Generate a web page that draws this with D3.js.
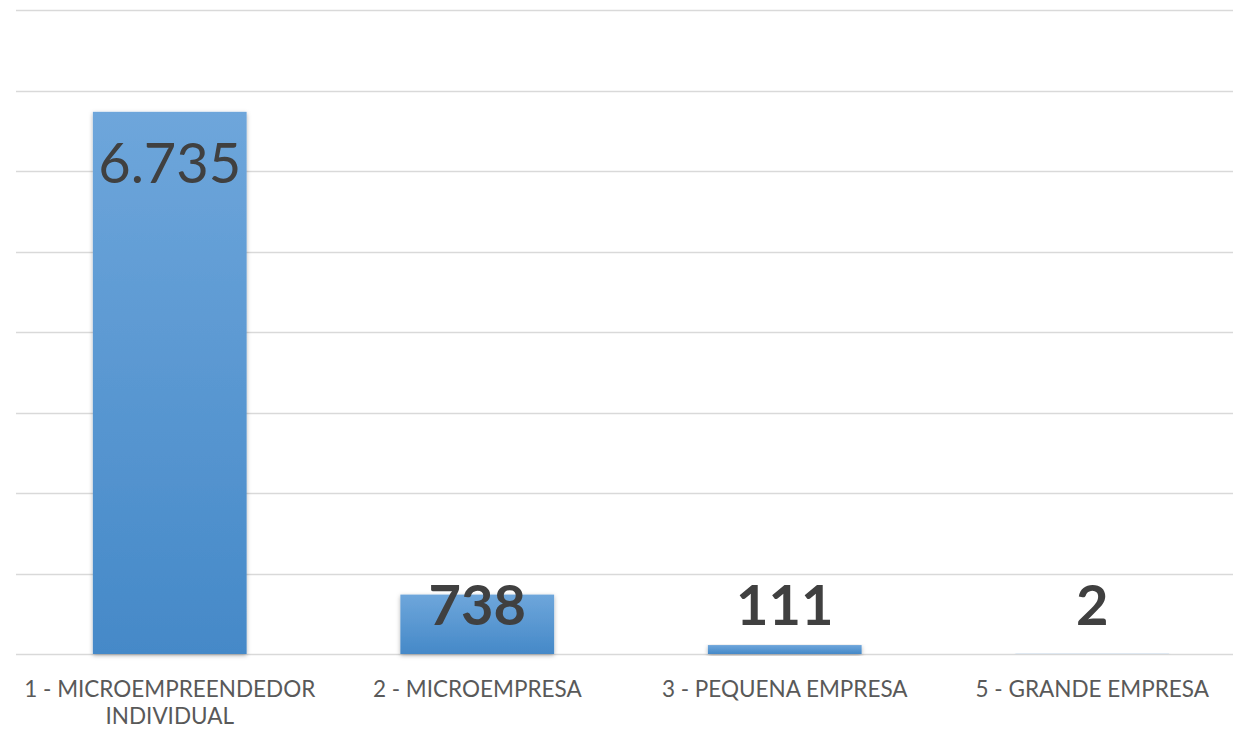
<!DOCTYPE html>
<html>
<head>
<meta charset="utf-8">
<script src="https://cdn.jsdelivr.net/npm/d3@7"></script>
<style>
	body { margin: 0; background: #fff; }
	svg { display: block; font-family: Lato, "Open Sans", sans-serif; }
</style>
</head>
<body>
<svg id="chart" width="1233" height="731"></svg>
<script>
// porte das empresas
var categories = ["1 - MICROEMPREENDEDOR INDIVIDUAL", "2 - MICROEMPRESA", "3 - PEQUENA EMPRESA", "5 - GRANDE EMPRESA"];
var values = [6735, 738, 111, 2];
var yTicks = [0, 1000, 2000, 3000, 4000, 5000, 6000, 7000, 8000];

var width = 1233, height = 731;
var plot = {left: 16, right: 1246, top: 10, bottom: 654};

var svg = d3.select("#chart");

var fmt = d3.formatLocale({decimal: ",", thousands: ".", grouping: [3], currency: ["R$", ""]}).format(",d");

var x = d3.scaleBand()
	.domain(categories)
	.range([plot.left, plot.right])
	.paddingInner(0.5)
	.paddingOuter(0.25);

var y = d3.scaleLinear()
	.domain([0, 8000])
	.range([plot.bottom, plot.top]);

var defs = svg.append("defs");
var grad = defs.append("linearGradient")
	.attr("id", "barGrad")
	.attr("x1", 0).attr("y1", 0).attr("x2", 0).attr("y2", 1);
grad.append("stop").attr("offset", "0%").attr("stop-color", "#6ea6db");
grad.append("stop").attr("offset", "100%").attr("stop-color", "#4589c8");

var shadow = defs.append("filter")
	.attr("id", "shadow")
	.attr("x", "-10%").attr("y", "-10%").attr("width", "120%").attr("height", "130%");
shadow.append("feDropShadow")
	.attr("dx", 0).attr("dy", 1.5)
	.attr("stdDeviation", 2)
	.attr("flood-color", "#000")
	.attr("flood-opacity", 0.3);

// gridlines
svg.append("g")
	.attr("class", "grid")
	.selectAll("line")
	.data(yTicks)
	.join("line")
		.attr("x1", plot.left)
		.attr("x2", width)
		.attr("y1", function(d) { return Math.round(y(d)) + 0.5; })
		.attr("y2", function(d) { return Math.round(y(d)) + 0.5; })
		.attr("stroke", "#d9d9d9")
		.attr("stroke-width", 1.5);

// bars
svg.append("g")
	.selectAll("rect")
	.data(values)
	.join("rect")
		.attr("x", function(d, i) { return x(categories[i]); })
		.attr("y", function(d) { return y(d); })
		.attr("width", x.bandwidth())
		.attr("height", function(d) { return y(0) - y(d); })
		.attr("fill", "url(#barGrad)")
		.attr("filter", "url(#shadow)");

// value labels
svg.append("g")
	.selectAll("text")
	.data(values)
	.join("text")
		.attr("x", function(d, i) { return x(categories[i]) + x.bandwidth() / 2; })
		.attr("y", function(d) { return Math.min(y(d) + 71, y(0) - 29); })
		.attr("text-anchor", "middle")
		.attr("font-size", 56)
		.attr("font-weight", function(d) { return y(0) - y(d) > 100 ? "normal" : "bold"; })
		.attr("fill", "#404040")
		.text(function(d) { return fmt(d); });

// category axis
var xAxis = svg.append("g")
	.attr("transform", "translate(0," + plot.bottom + ")")
	.call(d3.axisBottom(x).tickSize(0).tickPadding(0));
xAxis.select(".domain").remove();
xAxis.selectAll("text")
	.attr("y", 43)
	.attr("dy", 0)
	.attr("font-size", 22.5)
	.attr("font-family", "Lato, 'Open Sans', sans-serif")
	.attr("fill", "#595959")
	.call(wrap, 305);

function wrap(text, w) {
	text.each(function() {
		var text = d3.select(this),
			words = text.text().split(/\s+/).reverse(),
			word,
			line = [],
			tx = 0,
			ty = text.attr("y"),
			tspan = text.text(null).append("tspan").attr("x", tx).attr("y", ty).attr("dy", "0em");
		while (word = words.pop()) {
			line.push(word);
			tspan.text(line.join(" "));
			if (tspan.node().getComputedTextLength() > w) {
				line.pop();
				tspan.text(line.join(" "));
				line = [word];
				tspan = text.append("tspan").attr("x", tx).attr("y", ty).attr("dy", "1.22em").text(word);
			}
		}
	});
}
</script>
</body>
</html>
